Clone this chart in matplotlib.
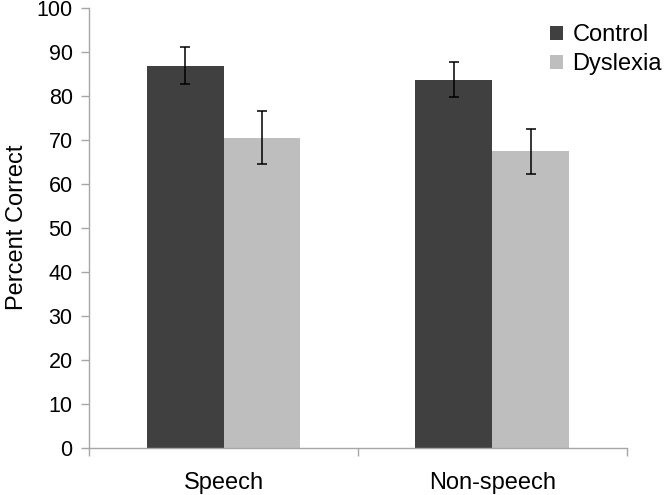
import matplotlib
matplotlib.use("Agg")
import matplotlib.pyplot as plt
import numpy as np

categories = ["Speech", "Non-speech"]
groups = ["Control", "Dyslexia"]
control_means = [86.8, 83.6]
control_err = [4.2, 4.0]
dyslexia_means = [70.5, 67.4]
dyslexia_err = [6.1, 5.1]
y_ticks = [0, 10, 20, 30, 40, 50, 60, 70, 80, 90, 100]

plt.rcParams['font.family'] = ['Liberation Sans', 'DejaVu Sans']

fig = plt.figure(figsize=(6.64, 4.95), dpi=100)
ax = fig.add_axes([0.1345, 0.0956, 0.8093, 0.8888])

x = np.arange(len(categories))
w = 0.286
ax.bar(x - w/2, control_means, w, color="#404040", label=groups[0], zorder=2)
ax.bar(x + w/2, dyslexia_means, w, color="#bebebe", label=groups[1], zorder=2)
ax.errorbar(x - w/2, control_means, yerr=control_err, fmt="none", ecolor="black",
            elinewidth=1.1, capsize=3.4, capthick=1.1, zorder=3)
ax.errorbar(x + w/2, dyslexia_means, yerr=dyslexia_err, fmt="none", ecolor="black",
            elinewidth=1.1, capsize=3.4, capthick=1.1, zorder=3)

ax.set_xlim(-0.5, len(categories) - 0.5)
ax.set_ylim(0, 100)
ax.set_yticks(y_ticks)
ax.set_xticks(np.arange(len(categories) + 1) - 0.5)
ax.set_xticklabels([])
ax.set_xticks(x, minor=True)
ax.set_xticklabels(categories, minor=True)
ax.tick_params(axis="x", which="minor", length=0, pad=17.5, labelsize=17)
ax.tick_params(axis="x", which="major", length=6, color="#a6a6a6", width=1)
ax.tick_params(axis="y", length=6, color="#a6a6a6", width=1, labelsize=15.5, pad=6)

for s in ["top", "right"]:
    ax.spines[s].set_visible(False)
for s in ["left", "bottom"]:
    ax.spines[s].set_color("#a6a6a6")
    ax.spines[s].set_linewidth(1)

ax.set_ylabel("Percent Correct", fontsize=17, labelpad=6)

leg = fig.legend(loc="upper left", bbox_to_anchor=(550/664, 1 - 24/495), frameon=False,
                 fontsize=17, handlelength=0.55, handleheight=0.55, handletextpad=0.4,
                 labelspacing=0.3, borderpad=0, borderaxespad=0)

fig.savefig("out.png", dpi=100)
